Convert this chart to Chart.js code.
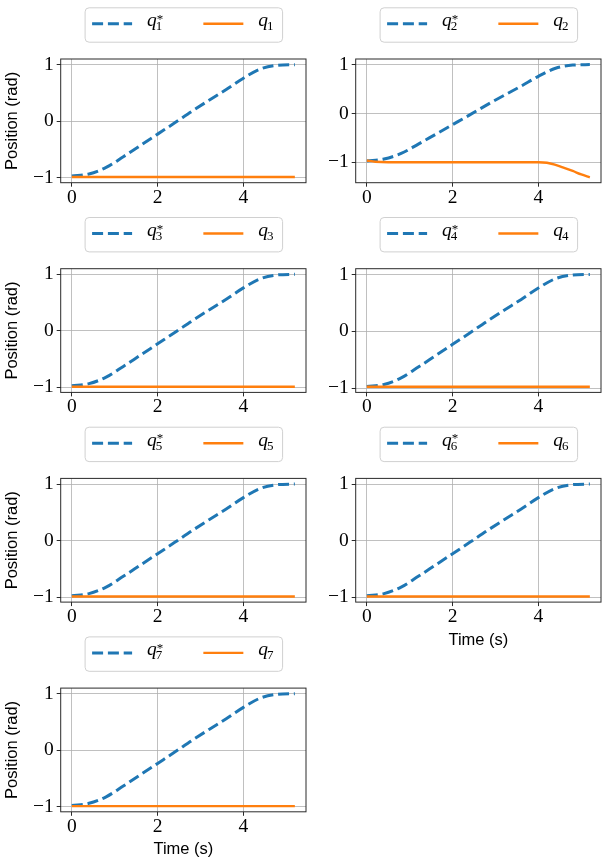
<!DOCTYPE html>
<html><head><meta charset="utf-8">
<script src="https://cdn.jsdelivr.net/npm/chart.js@4.4.1/dist/chart.umd.min.js"></script>
<style>
html,body{margin:0;padding:0;background:#fff;}
#wrap{position:relative;width:605px;height:863px;overflow:hidden;background:#fff;}
#wrap canvas{position:absolute;left:0;top:0;}
</style></head><body><div id="wrap"></div>
<script>
// ---- data ----
const time   = [0, 0.4, 0.8, 1.2, 1.6, 2.0, 2.4, 2.8, 3.2, 3.6, 4.0, 4.4, 4.8, 5.2];
const qRef   = [-0.973, -0.935, -0.82, -0.63, -0.43, -0.23, -0.03, 0.175, 0.37, 0.56, 0.76, 0.925, 0.99, 1.0];
const q1 = [-0.99, -0.99, -0.99, -0.99, -0.99, -0.99, -0.99, -0.99, -0.99, -0.99, -0.99, -0.99, -0.99, -0.99];
const timeQ2 = [0, 0.2, 0.5, 1.0, 2.0, 3.0, 4.0, 4.2, 4.4, 4.6, 4.8, 5.0, 5.2];
const q2 = [-0.965, -0.99, -1.0, -1.0, -1.0, -1.0, -1.0, -1.01, -1.055, -1.115, -1.18, -1.25, -1.31];
const q3 = [-0.99, -0.99, -0.99, -0.99, -0.99, -0.99, -0.99, -0.99, -0.99, -0.99, -0.99, -0.99, -0.99, -0.99];
const q4 = [-0.975, -0.975, -0.975, -0.975, -0.975, -0.975, -0.975, -0.975, -0.975, -0.975, -0.975, -0.975, -0.975, -0.975];
const q5 = [-0.985, -0.985, -0.985, -0.985, -0.985, -0.985, -0.985, -0.985, -0.985, -0.985, -0.985, -0.985, -0.985, -0.985];
const q6 = [-0.985, -0.985, -0.985, -0.985, -0.985, -0.985, -0.985, -0.985, -0.985, -0.985, -0.985, -0.985, -0.985, -0.985];
const q7 = [-0.985, -0.985, -0.985, -0.985, -0.985, -0.985, -0.985, -0.985, -0.985, -0.985, -0.985, -0.985, -0.985, -0.985];
const jointIds = ['1', '2', '3', '4', '5', '6', '7'];
const actualSeries = [q1, q2, q3, q4, q5, q6, q7];
const actualTimes  = [time, timeQ2, time, time, time, time, time];
const xTicks = [0, 2, 4];
const yTicks = [-1, 0, 1];
const xRange = [-0.26, 5.46];
const yRanges = [[-1.09, 1.10], [-1.42, 1.115], [-1.09, 1.10], [-1.075, 1.10], [-1.085, 1.10], [-1.085, 1.10], [-1.085, 1.10]];
const yTitle = 'Position (rad)';
const xTitle = 'Time (s)';

// ---- layout ----
const W = 605, H = 863;
const colLeft = [60.7, 355.7], plotW = 245.3;
const rowTop = [59, 268.7, 478.4, 688.1], plotH = 123.7;
const BLUE = '#1f77b4', ORANGE = '#ff7f0e';
const XAXIS_H = 50;

function pts(ts, vs) { return ts.map((t, i) => ({x: t, y: vs[i]})); }
function fmt(v) { return v < 0 ? '\u2212' + Math.abs(v) : String(v); }

const framePlugin = {
  id: 'frameLegend',
  afterDraw(chart) {
    const {ctx, chartArea: ca} = chart;
    ctx.save();
    ctx.strokeStyle = '#2b2b2b'; ctx.lineWidth = 1;
    ctx.strokeRect(ca.left, ca.top, ca.right - ca.left, ca.bottom - ca.top);
    // legend
    const items = chart.data.datasets.map(ds => ({color: ds.borderColor, dash: ds.borderDash || [], lw: ds.borderWidth, base: ds.symBase, sub: ds.symSub, sup: ds.symSup}));
    const fQ = 'italic 19.5px "Liberation Serif"', fS = '13px "Liberation Serif"';
    items.forEach(it => {
      ctx.font = fQ; it.qw = ctx.measureText(it.base).width;
      ctx.font = fS; it.sw = Math.max(ctx.measureText(it.sub).width, it.sup ? ctx.measureText(it.sup).width + 1 : 0);
      it.tw = it.qw + it.sw - 1;
    });
    const handle = 40, tpad = 15, colsp = 40, padL = 7.5, padR = 8.5;
    let total = padL + padR;
    items.forEach((it, i) => { total += handle + tpad + it.tw + (i > 0 ? colsp : 0); });
    const bx = (ca.left + ca.right) / 2 - total / 2, by = ca.top - 51.7, bh = 34.4;
    ctx.beginPath();
    ctx.roundRect(bx + 0.5, by + 0.5, total, bh, 4);
    ctx.fillStyle = 'rgba(255,255,255,0.8)'; ctx.fill();
    ctx.strokeStyle = '#d0d0d0'; ctx.lineWidth = 1; ctx.stroke();
    let x = bx + padL;
    const lineY = by + 16.5;
    items.forEach((it, i) => {
      if (i > 0) x += colsp;
      ctx.beginPath(); ctx.setLineDash(it.dash); ctx.lineCap = 'butt';
      ctx.strokeStyle = it.color; ctx.lineWidth = it.lw;
      ctx.moveTo(x, lineY); ctx.lineTo(x + handle, lineY); ctx.stroke();
      ctx.setLineDash([]);
      x += handle + tpad;
      ctx.fillStyle = '#000'; ctx.textAlign = 'left'; ctx.textBaseline = 'alphabetic';
      ctx.font = fQ; ctx.fillText(it.base, x, by + 19);
      ctx.font = fS;
      ctx.fillText(it.sub, x + it.qw - 1, by + 23);
      if (it.sup) ctx.fillText(it.sup, x + it.qw, by + 15.5);
      x += it.tw;
    });
    ctx.restore();
  }
};

const wrap = document.getElementById('wrap');
for (let i = 0; i < 7; i++) {
  const col = i % 2, row = Math.floor(i / 2);
  const left = colLeft[col], top = rowTop[row];
  const showY = col === 0;
  const showX = (i === 5 || i === 6);
  const yAxisW = showY ? left : 45;
  const cv = document.createElement('canvas');
  cv.width = W; cv.height = H; cv.style.width = W + 'px'; cv.style.height = H + 'px';
  wrap.appendChild(cv);
  new Chart(cv, {
    type: 'line',
    data: {
      datasets: [
        {label: 'q' + jointIds[i] + '*', symBase: 'q', symSub: jointIds[i], symSup: '*',
         data: pts(time, qRef), borderColor: BLUE, borderWidth: 3, borderDash: [11, 4.8],
         pointRadius: 0, cubicInterpolationMode: 'monotone', fill: false, order: 1},
        {label: 'q' + jointIds[i], symBase: 'q', symSub: jointIds[i], symSup: '',
         data: pts(actualTimes[i], actualSeries[i]), borderColor: ORANGE, borderWidth: 2.4,
         pointRadius: 0, cubicInterpolationMode: 'monotone', fill: false, order: 0}
      ]
    },
    options: {
      responsive: false, animation: false, devicePixelRatio: 1,
      events: [],
      layout: {padding: {left: left - yAxisW, right: W - left - plotW, top: top, bottom: H - top - plotH - XAXIS_H}},
      plugins: {legend: {display: false}, tooltip: {enabled: false}},
      scales: {
        x: {
          type: 'linear', position: 'bottom', min: xRange[0], max: xRange[1],
          afterBuildTicks: s => { s.ticks = xTicks.map(v => ({value: v})); },
          afterFit: s => { s.height = XAXIS_H; },
          grid: {color: '#b0b0b0', lineWidth: 0.8, tickColor: '#2b2b2b', tickLength: 4, tickWidth: 1},
          border: {display: false},
          ticks: {autoSkip: false, maxRotation: 0, color: '#000', padding: 1,
                  font: {family: '"Liberation Serif"', size: 19.5, lineHeight: 1}, callback: fmt},
          title: {display: showX, text: xTitle, color: '#000', padding: {top: 0, bottom: 2},
                  font: {family: '"Liberation Sans"', size: 16.5, lineHeight: 1.2}}
        },
        y: {
          type: 'linear', position: 'left', min: yRanges[i][0], max: yRanges[i][1],
          afterBuildTicks: s => { s.ticks = yTicks.map(v => ({value: v})); },
          afterFit: s => { s.width = yAxisW; },
          grid: {color: '#b0b0b0', lineWidth: 0.8, tickColor: '#2b2b2b', tickLength: 4, tickWidth: 1},
          border: {display: false},
          ticks: {autoSkip: false, color: '#000', padding: 3,
                  font: {family: '"Liberation Serif"', size: 19.5, lineHeight: 1}, callback: fmt},
          title: {display: showY, text: yTitle, color: '#000', padding: {top: 3, bottom: 0},
                  font: {family: '"Liberation Sans"', size: 16.5, lineHeight: 1.2}}
        }
      }
    },
    plugins: [framePlugin]
  });
}
</script></body></html>
